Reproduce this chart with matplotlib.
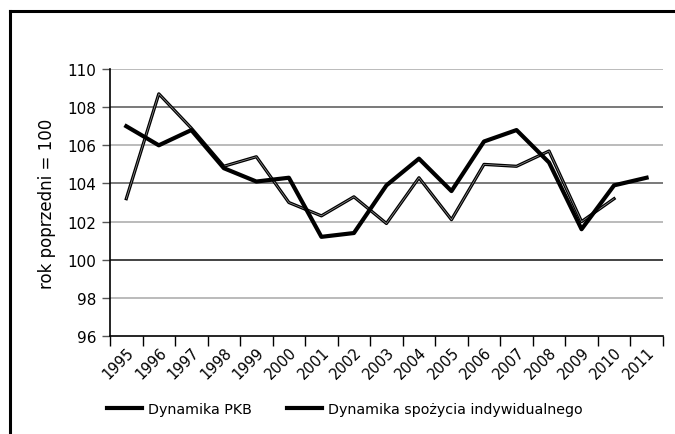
import numpy as np
import matplotlib.pyplot as plt
from matplotlib.lines import Line2D

plt.rcParams['font.family'] = ['Liberation Sans Narrow', 'DejaVu Sans']

# Data
years = ['1995', '1996', '1997', '1998', '1999', '2000', '2001', '2002', '2003',
         '2004', '2005', '2006', '2007', '2008', '2009', '2010', '2011']
pkb = [107.0, 106.0, 106.8, 104.8, 104.1, 104.3, 101.2, 101.4, 103.9,
       105.3, 103.6, 106.2, 106.8, 105.1, 101.6, 103.9, 104.3]
spozycie = [103.2, 108.7, 106.9, 104.9, 105.4, 103.0, 102.3, 103.3, 101.9,
            104.3, 102.1, 105.0, 104.9, 105.7, 102.0, 103.2, np.nan]
yticks = [96, 98, 100, 102, 104, 106, 108, 110]

fig = plt.figure(figsize=(6.75, 4.35), dpi=100)
ax = fig.add_axes([0.163, 0.2253, 0.819, 0.6137])

x = np.arange(len(years))

# Gridlines (scan gives alternating shades)
for v in yticks[1:]:
    col = '#555555' if v in (104, 108) else '#a8a8a8'
    if v == 100:
        col = '#111111'
    ax.axhline(v, color=col, lw=1.1, zorder=1)

# Lines
ax.plot(x, spozycie, color='black', lw=2.3, zorder=3)
ax.plot(x, spozycie, color='white', lw=0.5, alpha=0.6, zorder=4)
ax.plot(x, pkb, color='black', lw=3.0, zorder=5)

ax.set_xlim(-0.5, len(years) - 0.5)
ax.set_ylim(96, 110)
ax.set_yticks(yticks)
ax.set_yticklabels([str(v) for v in yticks], fontsize=11)

# Category ticks between years, labels at centers
ax.set_xticks(np.arange(-0.5, len(years), 1.0))
ax.set_xticklabels([])
ax.set_xticks(x, minor=True)
ax.set_xticklabels(years, minor=True, rotation=45, ha='right',
                   rotation_mode='anchor', fontsize=10.5)
ax.tick_params(axis='x', which='major', length=7, width=1, color='black', direction='out')
ax.tick_params(axis='x', which='minor', length=0, pad=6)
ax.tick_params(axis='y', length=6, width=1, color='#555555', pad=4)

for s in ['top', 'right']:
    ax.spines[s].set_visible(False)
ax.spines['left'].set_linewidth(1.2)
ax.spines['bottom'].set_linewidth(1.2)

ax.set_ylabel('rok poprzedni = 100', fontsize=12, labelpad=8)

# Legend
handles = [Line2D([0], [0], color='black', lw=3),
           Line2D([0], [0], color='black', lw=3)]
fig.legend(handles, ['Dynamika PKB', 'Dynamika spożycia indywidualnego'],
           loc='center', bbox_to_anchor=(0.511, 0.057), ncol=2, frameon=False,
           fontsize=10.3, handlelength=2.45, handletextpad=0.4, columnspacing=2.5)

# Frame lines of the original figure
fig.add_artist(Line2D([0.0148, 1.0], [0.972, 0.972], color='black', lw=2.2,
                      transform=fig.transFigure))
fig.add_artist(Line2D([0.0148, 0.0148], [0.0, 0.972], color='black', lw=2.2,
                      transform=fig.transFigure))

fig.savefig('out.png', dpi=100)
